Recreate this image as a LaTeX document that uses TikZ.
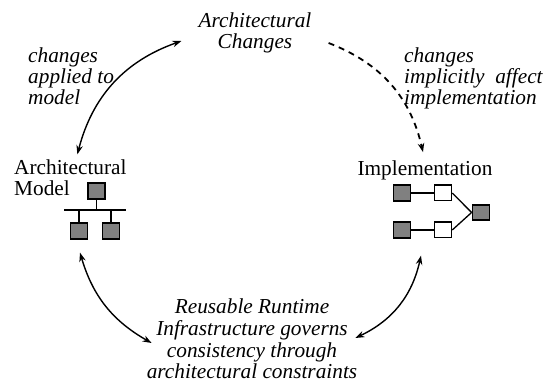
\documentclass[tikz,border=0pt]{standalone}
\usepackage{fontspec}
\setmainfont{Liberation Serif}
\usetikzlibrary{arrows.meta,calc}
\begin{document}
\begin{tikzpicture}[x=1pt,y=1pt,
  itl/.style={inner sep=0pt, font=\fontsize{21.3}{21}\selectfont\itshape},
  upl/.style={inner sep=0pt, font=\fontsize{21.3}{21}\selectfont},
  gbox/.style={draw=black, line width=1.8pt, fill={rgb,255:red,128;green,128;blue,128}, minimum width=17pt, minimum height=15.5pt, inner sep=0pt},
  wbox/.style={draw=black, line width=1.5pt, fill=white, minimum width=17pt, minimum height=15.5pt, inner sep=0pt},
  wire/.style={line width=1.3pt},
  arr/.style={line width=1.4pt, {Stealth[length=9pt,width=6.5pt]}-{Stealth[length=9pt,width=6.5pt]}},
  darr/.style={line width=1.8pt, dash pattern=on 6pt off 5pt, -{Stealth[length=9pt,width=6.5pt]}}
]
\useasboundingbox (0,0) rectangle (547,383);
% texts
\node[itl, align=center] (ac) at (255,350) {Architectural\\Changes};
\node[itl, align=left, anchor=west] (cam) at (28,307) {changes\\applied to\\model};
\node[itl, align=left, anchor=west] (cia) at (404,304.5) {changes\\implicitly\ \ affect\\implementation};
\node[upl, align=left, anchor=west] (am) at (14,205.5) {Architectural\\Model};
\node[upl] (impl) at (425,213) {Implementation};
\node[itl, align=center, font=\fontsize{21.3}{21.7}\selectfont\itshape] (rr) at (252,44) {Reusable Runtime\\Infrastructure governs\\consistency through\\architectural constraints};
% model icon
\node[gbox] (mt) at (96.5,192) {};
\node[gbox] (ml) at (79,152) {};
\node[gbox] (mr) at (111,152) {};
\coordinate (bl) at (64,173);
\coordinate (br) at (126,173);
\draw[wire] (bl) -- (br);
\draw[wire] (mt.south) -- (mt.south |- bl);
\draw[wire] (ml.north) -- (ml.north |- bl);
\draw[wire] (mr.north) -- (mr.north |- bl);
% implementation icon
\node[gbox] (g1) at (402,190) {};
\node[gbox] (g2) at (402,153) {};
\node[wbox] (w1) at (443,190) {};
\node[wbox] (w2) at (443,153) {};
\node[gbox] (g3) at (481,170.5) {};
\draw[wire] (g1) -- (w1);
\draw[wire] (g2) -- (w2);
\draw[wire] (w1.east) -- (g3.west);
\draw[wire] (w2.east) -- (g3.west);
% arrows
\draw[arr] ([shift={(7,5)}]am.north) to[bend left=28] ([shift={(-17,-8)}]ac.west);
\draw[darr] ([shift={(17,-10)}]ac.east) to[bend left=28] ([shift={(-2,8)}]impl.north);
\draw[arr] ([shift={(1,-13)}]ml.south) to[bend right=22] ([shift={(5,-4)}]rr.west);
\draw[arr] ([shift={(19,-17)}]g2.south) to[bend left=26] ([shift={(-2,1)}]rr.east);
\end{tikzpicture}
\end{document}
